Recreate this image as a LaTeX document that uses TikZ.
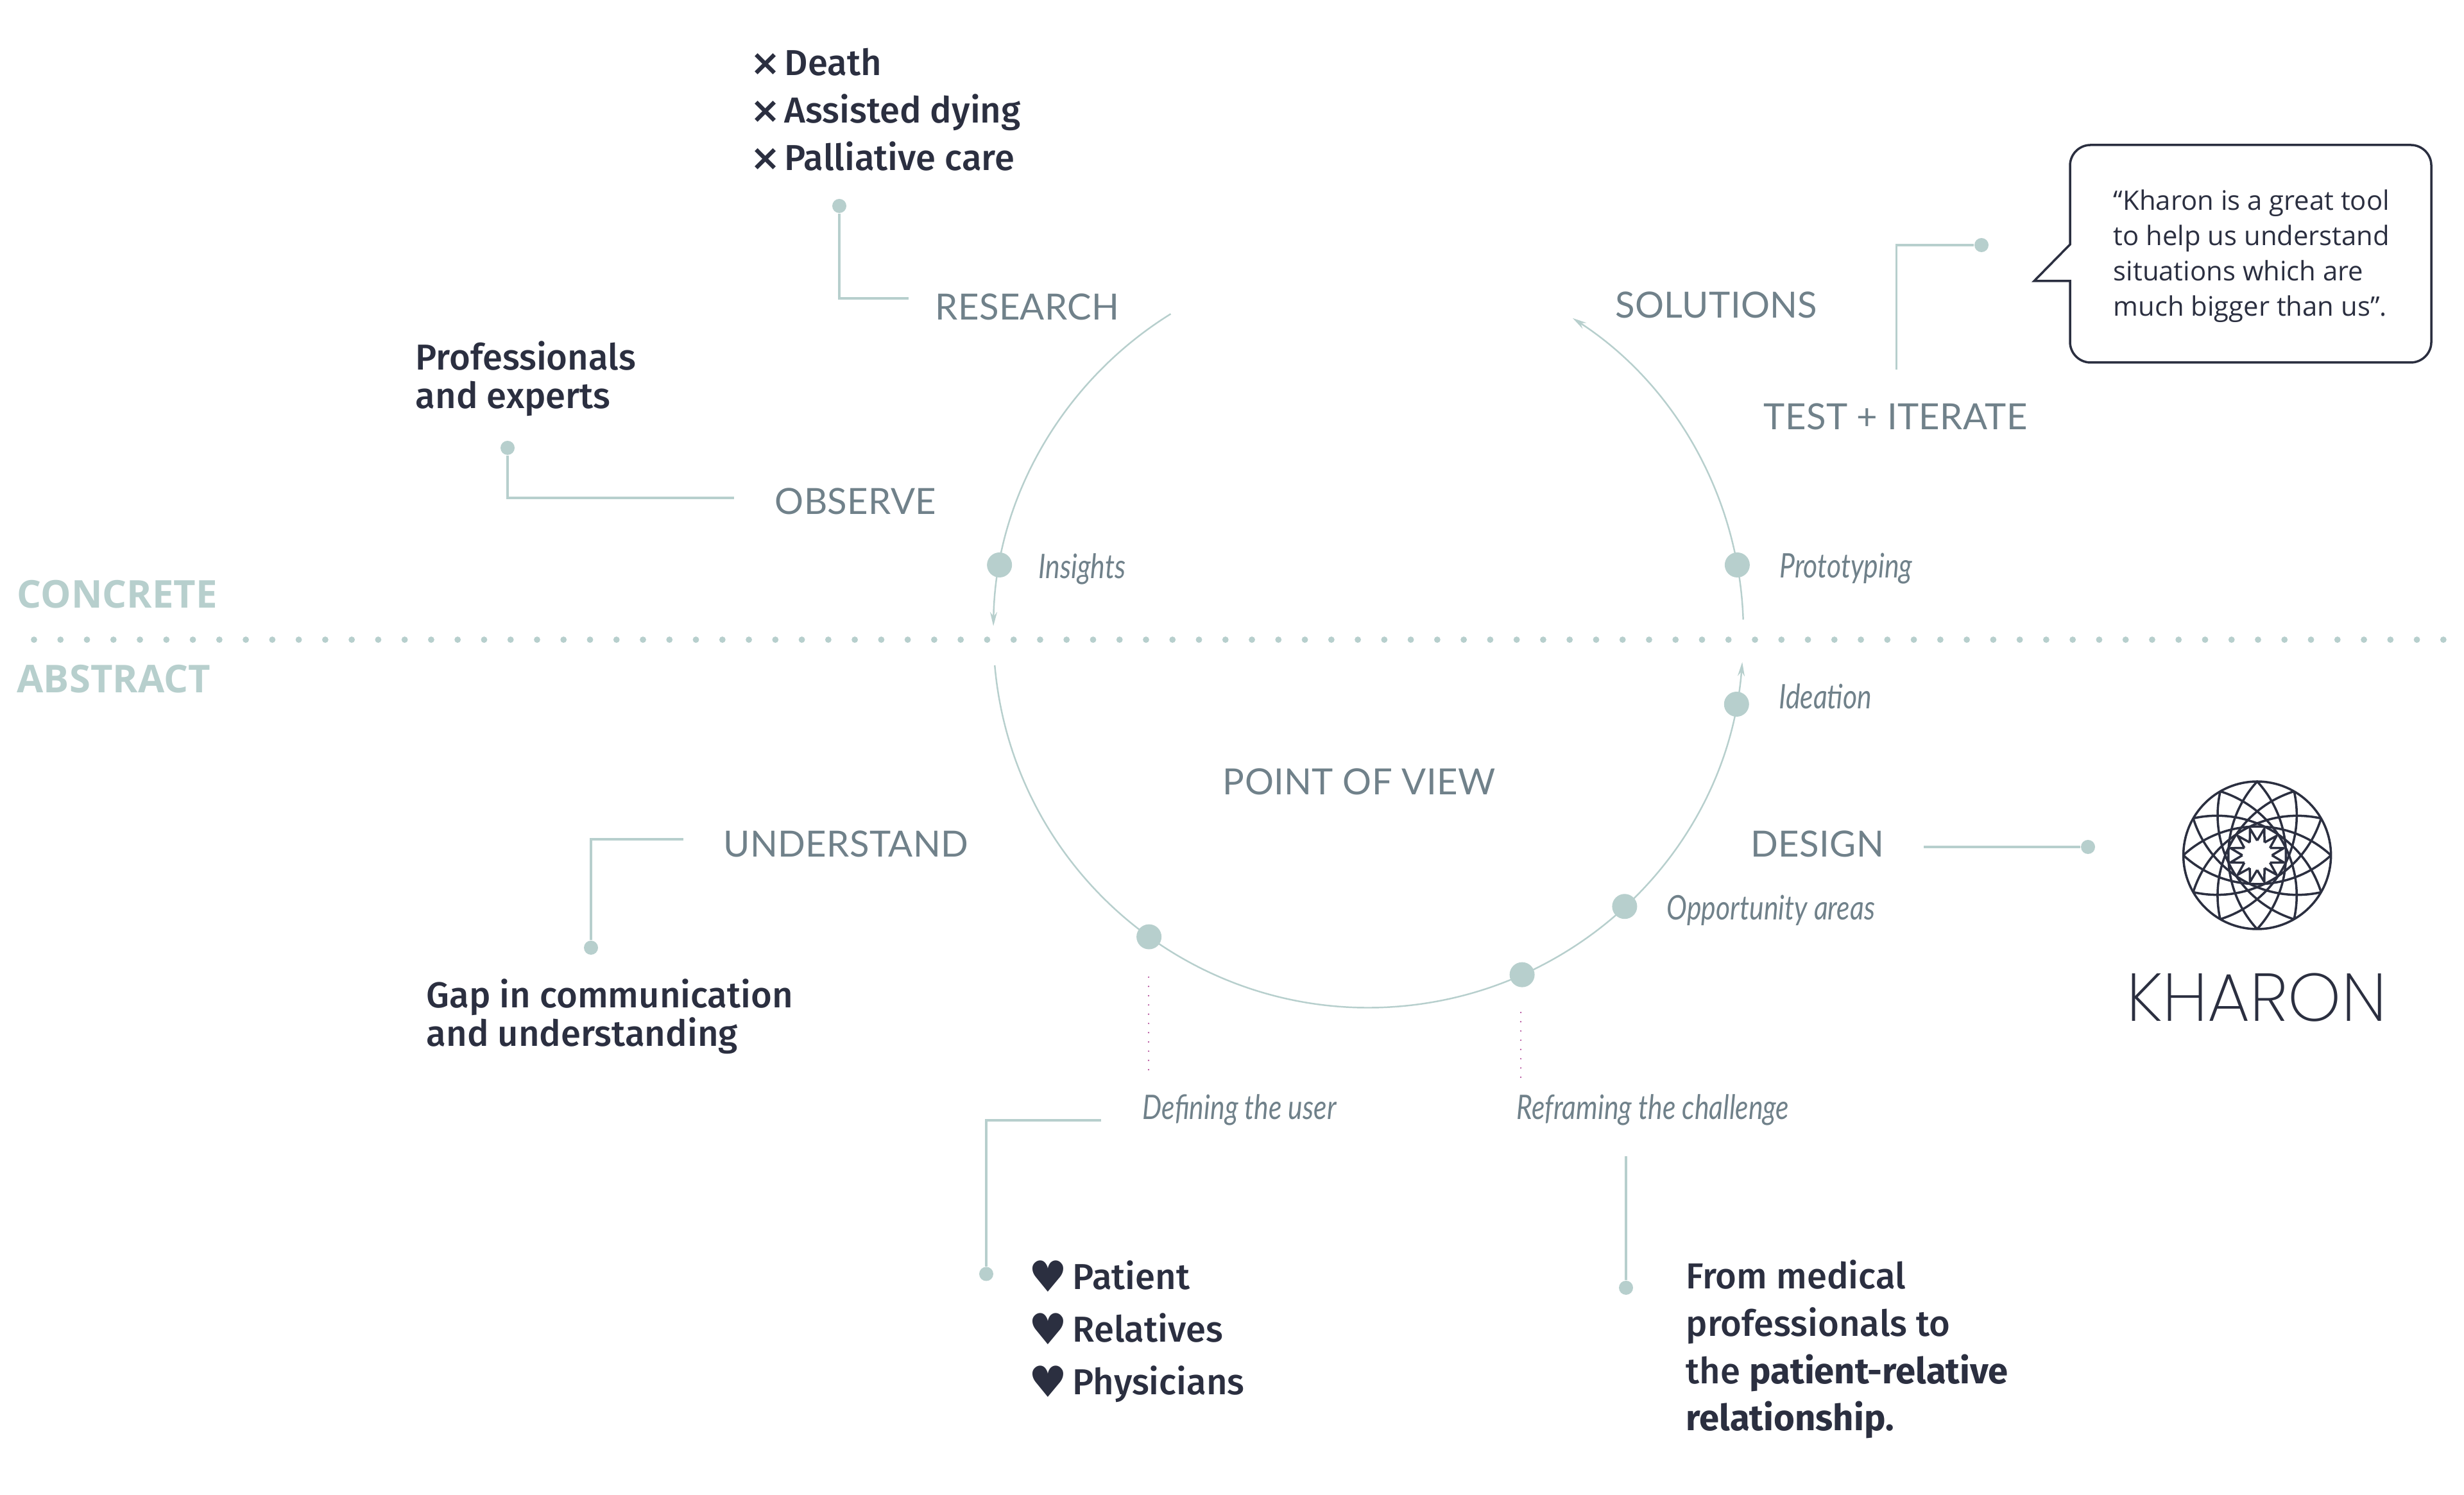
\documentclass[tikz,border=0pt]{standalone}
\usepackage{fontspec}
\usepackage{xcolor}
\usetikzlibrary{arrows.meta, positioning, calc}
\setmainfont{Open Sans}
\IfFontExistsTF{Fira Sans Medium}{\newfontfamily\bodyfont{Fira Sans Medium}[BoldFont={Fira Sans}, BoldFeatures={FakeBold=0}]}{\newfontfamily\bodyfont{Fira Sans}}
\newfontfamily\strongfont{Fira Sans Bold}
\newfontfamily\quotefont{Open Sans}
\newfontfamily\stagefont{Lato}[LetterSpace=0.6]
\newfontfamily\stepfont{Lato}[FakeStretch=0.81]
\IfFontExistsTF{Poppins ExtraLight}{\newfontfamily\logofont{Poppins ExtraLight}}{\newfontfamily\logofont{Poppins}}
\newfontfamily\symfont{DejaVu Sans Bold}
\newfontfamily\heartfont{DejaVu Sans}
\newcommand{\crossmark}{\makebox[0.53cm][l]{{\symfont ×}}}
\newcommand{\heartmark}{\makebox[0.68cm][l]{\raisebox{-0.04cm}{\heartfont\fontsize{19}{23.3}\selectfont ♥}}}
\definecolor{sage}{RGB}{183,207,205}
\definecolor{slate}{RGB}{112,129,138}
\definecolor{ink}{RGB}{43,47,64}
\definecolor{plum}{RGB}{176,70,150}

\begin{document}
\begin{tikzpicture}[
  pt/.style={circle, fill=sage, inner sep=0pt, minimum size=0.39cm},
  tip/.style={circle, fill=sage, inner sep=0pt, minimum size=0.22cm},
  stage/.style={text=slate, inner sep=0pt, font=\stagefont\fontsize{16}{20}\selectfont},
  stepl/.style={text=slate, inner sep=0pt, font=\stepfont\itshape\fontsize{15}{18}\selectfont},
  side/.style={text=sage, inner sep=0pt, font=\bfseries\fontsize{17}{20}\selectfont},
  body/.style={text=ink, inner sep=0pt, align=left, font=\bodyfont\fontsize{16}{21}\selectfont},
  cyc/.style={draw=sage, line width=0.7pt},
  cyca/.style={cyc, -{Stealth[length=0.22cm, width=0.11cm]}},
  lead/.style={draw=sage, line width=1pt},
  dots/.style={draw=plum, line width=0.7pt, line cap=round, dash pattern=on 0pt off 4.1pt},
  sep/.style={draw=sage, line width=2.8pt, line cap=round, dash pattern=on 0pt off 11.74pt},
  logoline/.style={draw=ink, line width=1pt, line join=round},
  node distance=0.45cm
]
\useasboundingbox (0,0) rectangle (38.4,23.3);

\coordinate (c) at (21.325,13.44);
\coordinate (sepl) at (0.53,13.33);
\coordinate (sepr) at (38.4,13.33);
\draw[sep] (sepl) -- (sepr);
\node[side, anchor=west] (concrete) at (0.26,14.04) {CONCRETE};
\node[side, anchor=west] (abstract) at (0.26,12.72) {ABSTRACT};

\draw[cyca] (c) ++(121.8:5.845) arc[start angle=121.8, end angle=179, radius=5.845];
\draw[cyca] (c) ++(185:5.845) arc[start angle=185, end angle=355.5, radius=5.845];
\draw[cyca] (c) ++(2:5.845) arc[start angle=2, end angle=57, radius=5.845];

\node[pt] (insights) at ($(c)+(169.6:5.845)$) {};
\node[pt] (proto)    at ($(c)+(10.4:5.845)$) {};
\node[pt] (ideation) at ($(c)+(-11:5.845)$) {};
\node[pt] (oppo)     at ($(c)+(-46.9:5.845)$) {};
\node[pt] (refr)     at ($(c)+(-65.8:5.845)$) {};
\node[pt] (defi)     at ($(c)+(234.2:5.845)$) {};

\node[stepl, right=0.4cm of insights, yshift=-0.06cm] {Insights};
\node[stepl, right=of proto, yshift=-0.06cm]    {Prototyping};
\node[stepl, right=of ideation, yshift=0.12cm] {Ideation};
\node[stepl, right=of oppo, yshift=-0.06cm]     {Opportunity areas};
\node[stepl, anchor=west] (defl) at (17.80,6.00) {Defining the user};
\node[stepl, anchor=west] (refl) at (23.63,6.00) {Reframing the challenge};

\node[stage, anchor=west] (research)   at (14.57,18.52) {RESEARCH};
\node[stage, anchor=west] (solutions)  at (25.17,18.55) {SOLUTIONS};
\node[stage, anchor=west] (test)       at (27.48,16.81) {TEST + ITERATE};
\node[stage, anchor=west] (observe)    at (12.07,15.49) {OBSERVE};
\node[stage, anchor=west] (understand) at (11.27,10.15) {UNDERSTAND};
\node[stage, anchor=west] (design)     at (27.28,10.15) {DESIGN};
\node[stage] (pov) at (21.18,11.12) {POINT OF VIEW};

\coordinate (dots1a) at (17.90,8.07);
\coordinate (dots1b) at (17.90,6.60);
\coordinate (dots2a) at (23.70,7.52);
\coordinate (dots2b) at (23.70,6.49);
\draw[dots] (dots1a) -- (dots1b);
\draw[dots] (dots2a) -- (dots2b);

\coordinate (ress) at (14.155,18.65);
\coordinate (obss) at (11.44,15.54);
\coordinate (unds) at (10.65,10.22);
\coordinate (tess) at (29.555,17.54);
\coordinate (dess) at (29.98,10.10);
\coordinate (defs) at (17.16,5.84);
\coordinate (refs) at (25.34,5.28);
\node[tip] (resd) at (13.08,20.09) {};
\node[tip] (obsd) at (7.91,16.32) {};
\node[tip] (undd) at (9.21,8.53) {};
\node[tip] (tesd) at (30.88,19.48) {};
\node[tip] (desd) at (32.54,10.10) {};
\node[tip] (defd) at (15.37,3.445) {};
\node[tip] (refd) at (25.34,3.23) {};
\draw[lead] (ress) -| (resd);
\draw[lead] (obss) -| (obsd);
\draw[lead] (unds) -| (undd);
\draw[lead] (tess) |- (tesd);
\draw[lead] (dess) -- (desd);
\draw[lead] (defs) -| (defd);
\draw[lead] (refs) -- (refd);

\node[body, anchor=west] (topics) at (11.69,21.59) {\crossmark Death\\\crossmark Assisted dying\\\crossmark Palliative care};
\node[body, anchor=west, font=\bodyfont\fontsize{16}{17}\selectfont] (experts) at (6.47,17.40) {Professionals\\and experts};
\node[body, anchor=west, font=\bodyfont\fontsize{16}{17}\selectfont] (gap) at (6.64,7.46) {Gap in communication\\and understanding};
\node[body, anchor=west, font=\bodyfont\fontsize{16}{23.3}\selectfont] (users) at (16.03,2.55) {\heartmark Patient\\\heartmark Relatives\\\heartmark Physicians};
\node[body, anchor=west] (shift) at (26.27,2.27) {From medical\\professionals to\\the {\strongfont patient-relative}\\{\strongfont relationship.}};

\draw[draw=ink, line width=1pt, rounded corners=0.32cm] (32.26,19.49) -- (32.26,21.04) -- (37.89,21.04) -- (37.89,17.65) -- (32.26,17.65) [sharp corners] -- (32.26,18.92) -- (31.70,18.92) -- cycle;
\node[anchor=west, text=ink, inner sep=0pt, align=left, font=\quotefont\fontsize{11.9}{15.6}\selectfont] (quote) at (32.93,19.31) {“Kharon is a great tool\\to help us understand\\situations which are\\much bigger than us”.};

\coordinate (logo) at (35.176,9.97);
\draw[logoline] (logo) circle[radius=1.15];
\foreach \a in {0,30,...,330}
  \draw[logoline] (logo) ++(\a:1.15) arc[start angle=\a+47.4, delta angle=85.2, radius=1.70];
\draw[logoline] \foreach \a in {0,30,...,330}{ ($(logo)+(\a:0.23)$) -- ($(logo)+(\a+15:0.43)$) -- ($(logo)+(\a+30:0.23)$) };
\node[text=ink, inner sep=0pt, font=\logofont\fontsize{30}{36}\selectfont] (kharon) at (35.17,7.75) {KHARON};
\end{tikzpicture}
\end{document}
